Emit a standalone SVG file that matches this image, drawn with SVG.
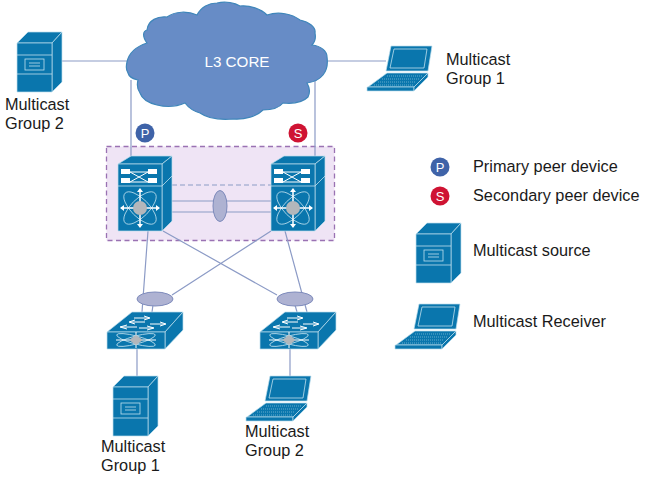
<svg xmlns="http://www.w3.org/2000/svg" width="645" height="477" viewBox="0 0 645 477">
<style>
text{font-family:"Liberation Sans",Arial,sans-serif;fill:#1a1a1a;font-size:16.300px}
.b{fill:#0a76ad;stroke:#bfe0ee;stroke-width:.7;stroke-linejoin:round}
.w{fill:none;stroke:#bfe0ee;stroke-width:.8}
.l{fill:none;stroke:#8c9bc6;stroke-width:1.200}
.e{fill:#aeb2d2;stroke:#7d8abb;stroke-width:1}
.a{fill:none;stroke:#fff;stroke-width:1.500}
</style>
<defs>
<g id="srv">
<path class="b" d="M0 11L11 0H45L35 11Z"/>
<path class="b" d="M35 11L45 0V50L35 60Z"/>
<path class="b" d="M0 11H35V60H0Z"/>
<path class="w" d="M0 23H35M0 42H35"/>
<rect class="w" x="8" y="27" width="19" height="11"/>
<path class="w" d="M12 31H23M12 34H23"/>
</g>
<g id="lap">
<path class="b" d="M24 0H65L61 25H19Z"/>
<path class="w" d="M27 3H60L57 22H23Z"/>
<path class="b" d="M20 27H61L47 41H1Z"/>
<path d="M20 30H56M15 33H52M11 36H49M7 39H47" fill="none" stroke="#8cc4dd" stroke-width=".7" stroke-dasharray="1 1"/>
<path class="b" d="M0 41H47V45H0Z"/>
<path class="b" d="M47 41L61 27V31L47 45Z"/>
</g>
<g id="n7k">
<path class="b" d="M0 8L13 0H54L44 8Z"/>
<path class="b" d="M44 8L54 0V65L44 75Z"/>
<path class="b" d="M0 8H44V75H0Z"/>
<path class="w" d="M0 30H44M44 30L54 20"/>
<path d="M4 16H38M4 26H38M12 16L30 26M12 26L30 16" fill="none" stroke="#fff" stroke-width="1"/>
<rect x="3" y="13" width="9" height="5" fill="#fff"/><rect x="30" y="13" width="9" height="5" fill="#fff"/>
<rect x="3" y="22" width="9" height="5" fill="#fff"/><rect x="30" y="22" width="9" height="5" fill="#fff"/>
<ellipse class="w" cx="22" cy="52" rx="21" ry="9" transform="rotate(45 22 52)"/>
<ellipse class="w" cx="22" cy="52" rx="21" ry="9" transform="rotate(-45 22 52)"/>
<path class="a" d="M22 33V71M3 52H41"/>
<path d="M22 32l-3 4h6ZM22 72l-3-4h6ZM2 52l4-3v6ZM42 52l-4-3v6Z" fill="#fff"/>
<circle cx="22" cy="52" r="7" fill="#b3b7bb"/>
</g>
<g id="sw">
<path class="b" d="M0 20L25 0H76L58 20Z"/>
<path class="b" d="M58 20L76 0V18L58 37Z"/>
<path class="b" d="M0 20H58V37H0Z"/>
<path d="M27 6H42M37 4L43 6L37 8M38 10H23M28 8L22 10L28 12M43 12H58M53 10L59 12L53 14M14 15H30M20 13L13 15L20 17M32 16H46M40 14L47 16L40 18" fill="none" stroke="#fff" stroke-width="1"/>
<ellipse class="w" cx="29" cy="28" rx="20" ry="4" transform="rotate(15 29 28)"/>
<ellipse class="w" cx="29" cy="28" rx="20" ry="4" transform="rotate(-15 29 28)"/>
<path d="M9 28H49M29 20V36" fill="none" stroke="#fff" stroke-width="1"/>
<path d="M29 23L36 28L29 33L22 28Z" fill="#b3b7bb"/>
</g>
</defs>
<rect width="645" height="477" fill="#fff"/>
<rect x="106.500" y="146.500" width="228" height="94" fill="#efe4f5" stroke="#9a72b3" stroke-width="1.300" stroke-dasharray="5 3.500"/>
<g id="connectors">
<path class="l" d="M62 61H130M326 61H386M131 80V156M315 80V156"/>
<path class="l" d="M172 185H271" stroke-dasharray="5 3"/>
<path class="l" d="M172 201H271M172 212H271"/>
<path class="l" d="M148 231L142 312M163 231L277 295M271 231L172 295M285 231L307 312M153 305L152 312M295 305L297 312"/>
<path class="l" d="M137 349V376M290 349V376"/>
</g>
<g id="cloud">
<path d="M127 62C129 52 138 46 147 43C142 36 143 31 147 30C148 20 158 16 167 17C175 11 188 11 197 15C201 7 209 3 217 3C226 1 235 3 240 6C250 5 261 9 267 15C279 11 292 14 300 20C309 22 316 27 315 33C316 38 315 42 312 45C321 46 327 51 327 57C328 64 327 70 323 75C319 80 314 82 307 83C310 88 310 93 308 97C303 102 293 104 283 103C279 108 271 110 263 110C257 116 245 120 233 119C220 120 207 118 200 113C193 111 188 107 185 103C176 107 165 107 157 105C149 103 142 99 140 93C137 89 137 84 138 80C133 79 129 77 128 73C126 70 126 66 127 62Z" fill="#678cc6" stroke="#3f86ba" stroke-width="1.200"/>
<text x="237" y="67" text-anchor="middle" style="fill:#fff;font-size:15.200px">L3 CORE</text>
</g>
<g id="badge-p"><circle cx="145" cy="133" r="9.500" fill="#3f63a8"/><text x="145" y="138" text-anchor="middle" style="fill:#fff;font-size:13px">P</text></g>
<g id="badge-s"><circle cx="298" cy="133" r="9.500" fill="#cf1333"/><text x="298" y="138" text-anchor="middle" style="fill:#fff;font-size:13px">S</text></g>
<g id="server-left"><use href="#srv" x="17" y="32"/><text x="5" y="110">Multicast</text><text x="5" y="129">Group 2</text></g>
<g id="laptop-top"><use href="#lap" x="367" y="46"/><text x="446" y="65">Multicast</text><text x="446" y="84">Group 1</text></g>
<g id="nexus-left"><use href="#n7k" x="118" y="156"/></g>
<g id="nexus-right"><use href="#n7k" x="271" y="156"/></g>
<ellipse id="vpc-peer" class="e" cx="220" cy="206" rx="7" ry="15.500"/>
<ellipse id="vpc-left" class="e" cx="155" cy="299" rx="18" ry="7"/>
<ellipse id="vpc-right" class="e" cx="295" cy="299" rx="18" ry="7"/>
<g id="switch-left"><use href="#sw" x="107" y="312"/></g>
<g id="switch-right"><use href="#sw" x="260" y="312"/></g>
<g id="server-bottom"><use href="#srv" x="113" y="376"/><text x="101" y="452">Multicast</text><text x="101" y="471">Group 1</text></g>
<g id="laptop-bottom"><use href="#lap" x="246" y="376"/><text x="245" y="437">Multicast</text><text x="245" y="456">Group 2</text></g>
<g id="legend">
<circle cx="440" cy="167" r="9.500" fill="#3f63a8"/><text x="440" y="172" text-anchor="middle" style="fill:#fff;font-size:13px">P</text>
<text x="473" y="172">Primary peer device</text>
<circle cx="440" cy="196" r="9.500" fill="#cf1333"/><text x="440" y="201" text-anchor="middle" style="fill:#fff;font-size:13px">S</text>
<text x="473" y="201">Secondary peer device</text>
<use href="#srv" x="416" y="223"/>
<text x="473" y="256">Multicast source</text>
<use href="#lap" x="395" y="304"/>
<text x="473" y="327">Multicast Receiver</text>
</g>
</svg>
